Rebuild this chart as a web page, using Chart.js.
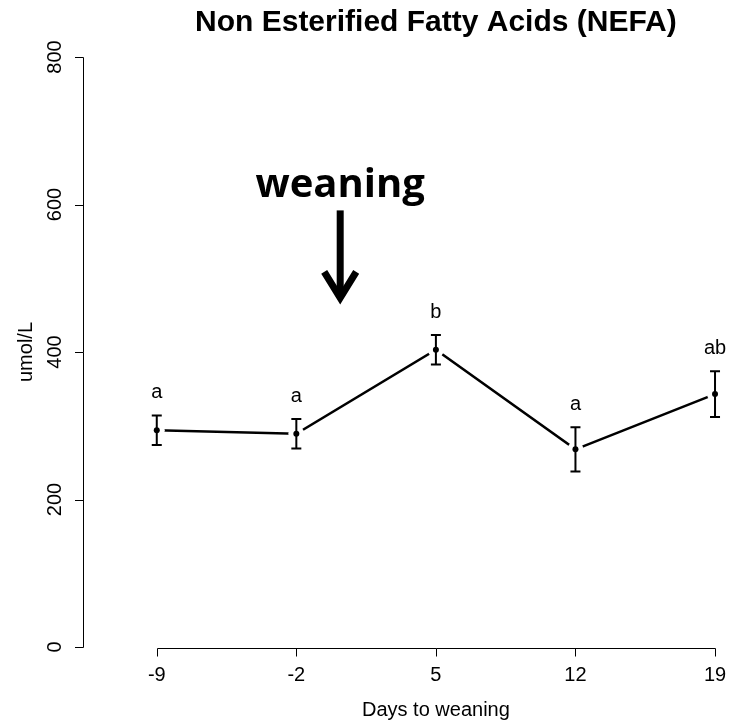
<!DOCTYPE html>
<html>
<head>
<meta charset="utf-8">
<title>NEFA</title>
<script src="https://cdn.jsdelivr.net/npm/chart.js@4.4.1/dist/chart.umd.min.js"></script>
<style>
    html, body { margin: 0; padding: 0; background: #fff; }
    #wrap { width: 730px; height: 722px; position: relative; }
</style>
</head>
<body>
<div id="wrap"><canvas id="nefaChart"></canvas></div>
<script>
/* =========================================================
   DATA
========================================================= */
const days = [-9, -2, 5, 12, 19];
const nefa = [294, 289, 403, 268, 343];
const nefaSE = [20, 20, 20, 30, 31];
const letters = ['a', 'a', 'b', 'a', 'ab'];
const yTicks = [0, 200, 400, 600, 800];

const chartTitle = 'Non Esterified Fatty Acids (NEFA)';
const xTitle = 'Days to weaning';
const yTitle = 'umol/L';

// annotation, in data units
const weaningDay = 0.2;
const weaningArrow = [592, 468];

/* =========================================================
   HELPER
========================================================= */
const font = "'Liberation Sans', Arial, sans-serif";

const points = days.map((d, i) => ({ x: d, y: nefa[i] }));

function midDay() {
    return (Math.min(...days) + Math.max(...days)) / 2;
}

/* =========================================================
   PLUGIN: R-style axes, error bars, letters, titles
========================================================= */
const rStylePlugin = {
    id: 'rStyle',
    afterDatasetsDraw(chart) {
        const ctx = chart.ctx;
        const x = chart.scales.x;
        const y = chart.scales.y;

        ctx.save();
        ctx.strokeStyle = '#000';
        ctx.fillStyle = '#000';

        // y axis
        const ax = Math.round(chart.chartArea.left) + 0.5;
        ctx.lineWidth = 1;
        ctx.beginPath();
        ctx.moveTo(ax, Math.round(y.getPixelForValue(yTicks[0])) + 0.5);
        ctx.lineTo(ax, Math.round(y.getPixelForValue(yTicks[yTicks.length - 1])) + 0.5);
        yTicks.forEach(t => {
            const py = Math.round(y.getPixelForValue(t)) + 0.5;
            ctx.moveTo(ax, py);
            ctx.lineTo(ax - 8.5, py);
        });
        ctx.stroke();

        // x axis
        const ay = Math.round(chart.chartArea.bottom) + 1.5;
        ctx.beginPath();
        ctx.moveTo(Math.round(x.getPixelForValue(days[0])) + 0.5, ay);
        ctx.lineTo(Math.round(x.getPixelForValue(days[days.length - 1])) + 0.5, ay);
        days.forEach(d => {
            const px = Math.round(x.getPixelForValue(d)) + 0.5;
            ctx.moveTo(px, ay);
            ctx.lineTo(px, ay + 8);
        });
        ctx.stroke();

        // error bars
        ctx.lineWidth = 2;
        days.forEach((d, i) => {
            const px = x.getPixelForValue(d);
            const top = y.getPixelForValue(nefa[i] + nefaSE[i]);
            const bot = y.getPixelForValue(nefa[i] - nefaSE[i]);
            ctx.beginPath();
            ctx.moveTo(px, top);
            ctx.lineTo(px, bot);
            ctx.moveTo(px - 5, top);
            ctx.lineTo(px + 5, top);
            ctx.moveTo(px - 5, bot);
            ctx.lineTo(px + 5, bot);
            ctx.stroke();
        });

        // significance letters
        ctx.font = '20px ' + font;
        ctx.textAlign = 'center';
        ctx.textBaseline = 'middle';
        days.forEach((d, i) => {
            const px = x.getPixelForValue(d);
            const py = y.getPixelForValue(nefa[i] + nefaSE[i]) - 23;
            ctx.fillText(letters[i], px, py);
        });

        // titles
        const cx = x.getPixelForValue(midDay());
        ctx.font = 'bold 30px ' + font;
        ctx.fillText(chartTitle, cx, 23);
        ctx.font = '20px ' + font;
        ctx.fillText(xTitle, cx, 710);

        // weaning annotation
        const wx = x.getPixelForValue(weaningDay);
        const y0 = y.getPixelForValue(weaningArrow[0]);
        const y1 = y.getPixelForValue(weaningArrow[1]);
        ctx.font = "bold 40px 'Open Sans', sans-serif";
        ctx.textBaseline = 'alphabetic';
        ctx.fillText('weaning', wx, 197);

        ctx.lineWidth = 7;
        ctx.lineJoin = 'miter';
        ctx.beginPath();
        ctx.moveTo(wx, y0);
        ctx.lineTo(wx, y1 - 4);
        ctx.stroke();
        ctx.beginPath();
        ctx.moveTo(wx - 16, y1 - 30);
        ctx.lineTo(wx, y1 - 4);
        ctx.lineTo(wx + 16, y1 - 30);
        ctx.stroke();

        ctx.restore();
    }
};

/* =========================================================
   CHART INIT
========================================================= */
const nefaChart = new Chart(document.getElementById('nefaChart'), {
    type: 'line',
    data: {
        datasets: [
            {
                // dots on top
                data: points,
                showLine: false,
                pointRadius: 3,
                pointBackgroundColor: '#000',
                pointBorderWidth: 0,
                order: 0
            },
            {
                // white gap round each point (R type = "b")
                data: points,
                showLine: false,
                pointRadius: 8,
                pointBackgroundColor: '#fff',
                pointBorderWidth: 0,
                order: 1
            },
            {
                data: points,
                borderColor: '#000',
                borderWidth: 2.5,
                pointRadius: 0,
                tension: 0,
                order: 2
            }
        ]
    },
    options: {
        responsive: true,
        maintainAspectRatio: false,
        animation: false,
        events: [],
        layout: {
            padding: { top: 57, right: 0, bottom: 0, left: 0 }
        },
        plugins: {
            legend: { display: false },
            tooltip: { enabled: false },
            title: { display: false }
        },
        scales: {
            x: {
                type: 'linear',
                min: -12.7,
                max: 19.35,
                border: { display: false },
                grid: { display: false, drawTicks: false },
                afterBuildTicks: scale => {
                    scale.ticks = days.map(v => ({ value: v }));
                },
                afterFit: scale => {
                    scale.height = 75;
                    // let the last label sit close to the edge, as R does
                    scale.paddingLeft = 0;
                    scale.paddingRight = 0;
                },
                ticks: {
                    color: '#000',
                    padding: 16,
                    maxRotation: 0,
                    autoSkip: false,
                    font: { family: font, size: 20 }
                }
            },
            y: {
                min: 0,
                max: 800,
                border: { display: false },
                grid: { display: false, drawTicks: false },
                afterBuildTicks: scale => {
                    scale.ticks = yTicks.map(v => ({ value: v }));
                },
                afterFit: scale => {
                    scale.width = 83;
                    scale.paddingTop = 0;
                    scale.paddingBottom = 0;
                },
                ticks: {
                    color: '#000',
                    padding: 11,
                    minRotation: 90,
                    maxRotation: 90,
                    crossAlign: 'center',
                    font: { family: font, size: 20 }
                },
                title: {
                    display: true,
                    text: yTitle,
                    color: '#000',
                    padding: { top: 14, bottom: 0 },
                    font: { family: font, size: 20 }
                }
            }
        }
    },
    plugins: [rStylePlugin]
});
</script>
</body>
</html>
